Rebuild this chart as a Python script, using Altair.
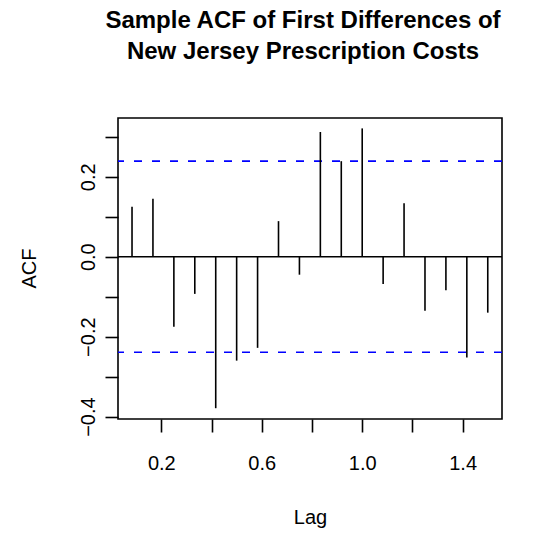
import altair as alt
import pandas as pd

# Lags (in years, monthly series) and sample ACF values
lags = [k / 12 for k in range(1, 19)]
acf_values = [0.125, 0.145, -0.175, -0.093, -0.379, -0.260, -0.228, 0.089, -0.045,
              0.312, 0.239, 0.321, -0.068, 0.134, -0.135, -0.084, -0.252, -0.140]
conf_limits = [0.239, -0.239]
x_ticks = [0.2, 0.4, 0.6, 0.8, 1.0, 1.2, 1.4]
y_ticks = [-0.4, -0.3, -0.2, -0.1, 0.0, 0.1, 0.2, 0.3]
title_lines = ["Sample ACF of First Differences of", "New Jersey Prescription Costs"]

df = pd.DataFrame({"lag": lags, "acf": acf_values})
df_conf = pd.DataFrame({"c": conf_limits})
df_zero = pd.DataFrame({"z": [0.0]})

FONT = "Liberation Sans"
x_scale = alt.Scale(domain=[0.0275, 1.5567], nice=False, zero=False)
y_scale = alt.Scale(domain=[-0.406, 0.347], nice=False, zero=False)

x_axis = alt.Axis(
    values=x_ticks,
    labelExpr="(round(datum.value*10) % 4 == 2) ? format(datum.value, '.1f') : ''",
    title="Lag", titleX=192, titleY=104, titleBaseline="alphabetic",
    labelBaseline="alphabetic", labelPadding=37,
)
y_axis = alt.Axis(
    values=y_ticks,
    labelExpr="(round(datum.value*10) % 2 == 0) ? format(datum.value, '.1f') : ''",
    labelAngle=-90, labelAlign="center", labelBaseline="alphabetic", labelPadding=11,
    title="ACF", titleX=-83, titleY=150, titleAngle=-90, titleAlign="center",
    titleBaseline="alphabetic",
)

spikes = alt.Chart(df).mark_rule(color="black", strokeWidth=1.6).encode(
    x=alt.X("lag:Q", scale=x_scale, axis=x_axis),
    y=alt.Y("acf:Q", scale=y_scale, axis=y_axis),
    y2=alt.datum(0),
)

zero = alt.Chart(df_zero).mark_rule(color="black", strokeWidth=1.6).encode(
    y=alt.Y("z:Q", scale=y_scale),
)

conf = alt.Chart(df_conf).mark_rule(color="#0000FF", strokeWidth=1.6, strokeDash=[8, 10]).encode(
    y=alt.Y("c:Q", scale=y_scale),
)

chart = alt.layer(zero, conf, spikes).properties(
    width=384,
    height=301,
    title=alt.TitleParams(
        text=title_lines, font=FONT, fontSize=24, fontWeight="bold", color="black",
        anchor="middle", frame="group", offset=54, lineHeight=31, dx=-7,
    ),
    autosize=alt.AutoSizeParams(type="none"),
    padding={"left": 110, "top": 110, "right": 29, "bottom": 114},
).configure_view(
    stroke="black", strokeWidth=1.6, fill="white",
).configure_axis(
    domain=False, grid=False, ticks=True, tickColor="black", tickWidth=1.6, tickSize=13,
    labelFont=FONT, labelFontSize=20, labelColor="black",
    titleFont=FONT, titleFontSize=20, titleColor="black", titleFontWeight="normal",
    labelOverlap=False, labelFlush=False, labelBound=False,
)

chart.save("out.html", embed_options={"renderer": "svg", "actions": False})
